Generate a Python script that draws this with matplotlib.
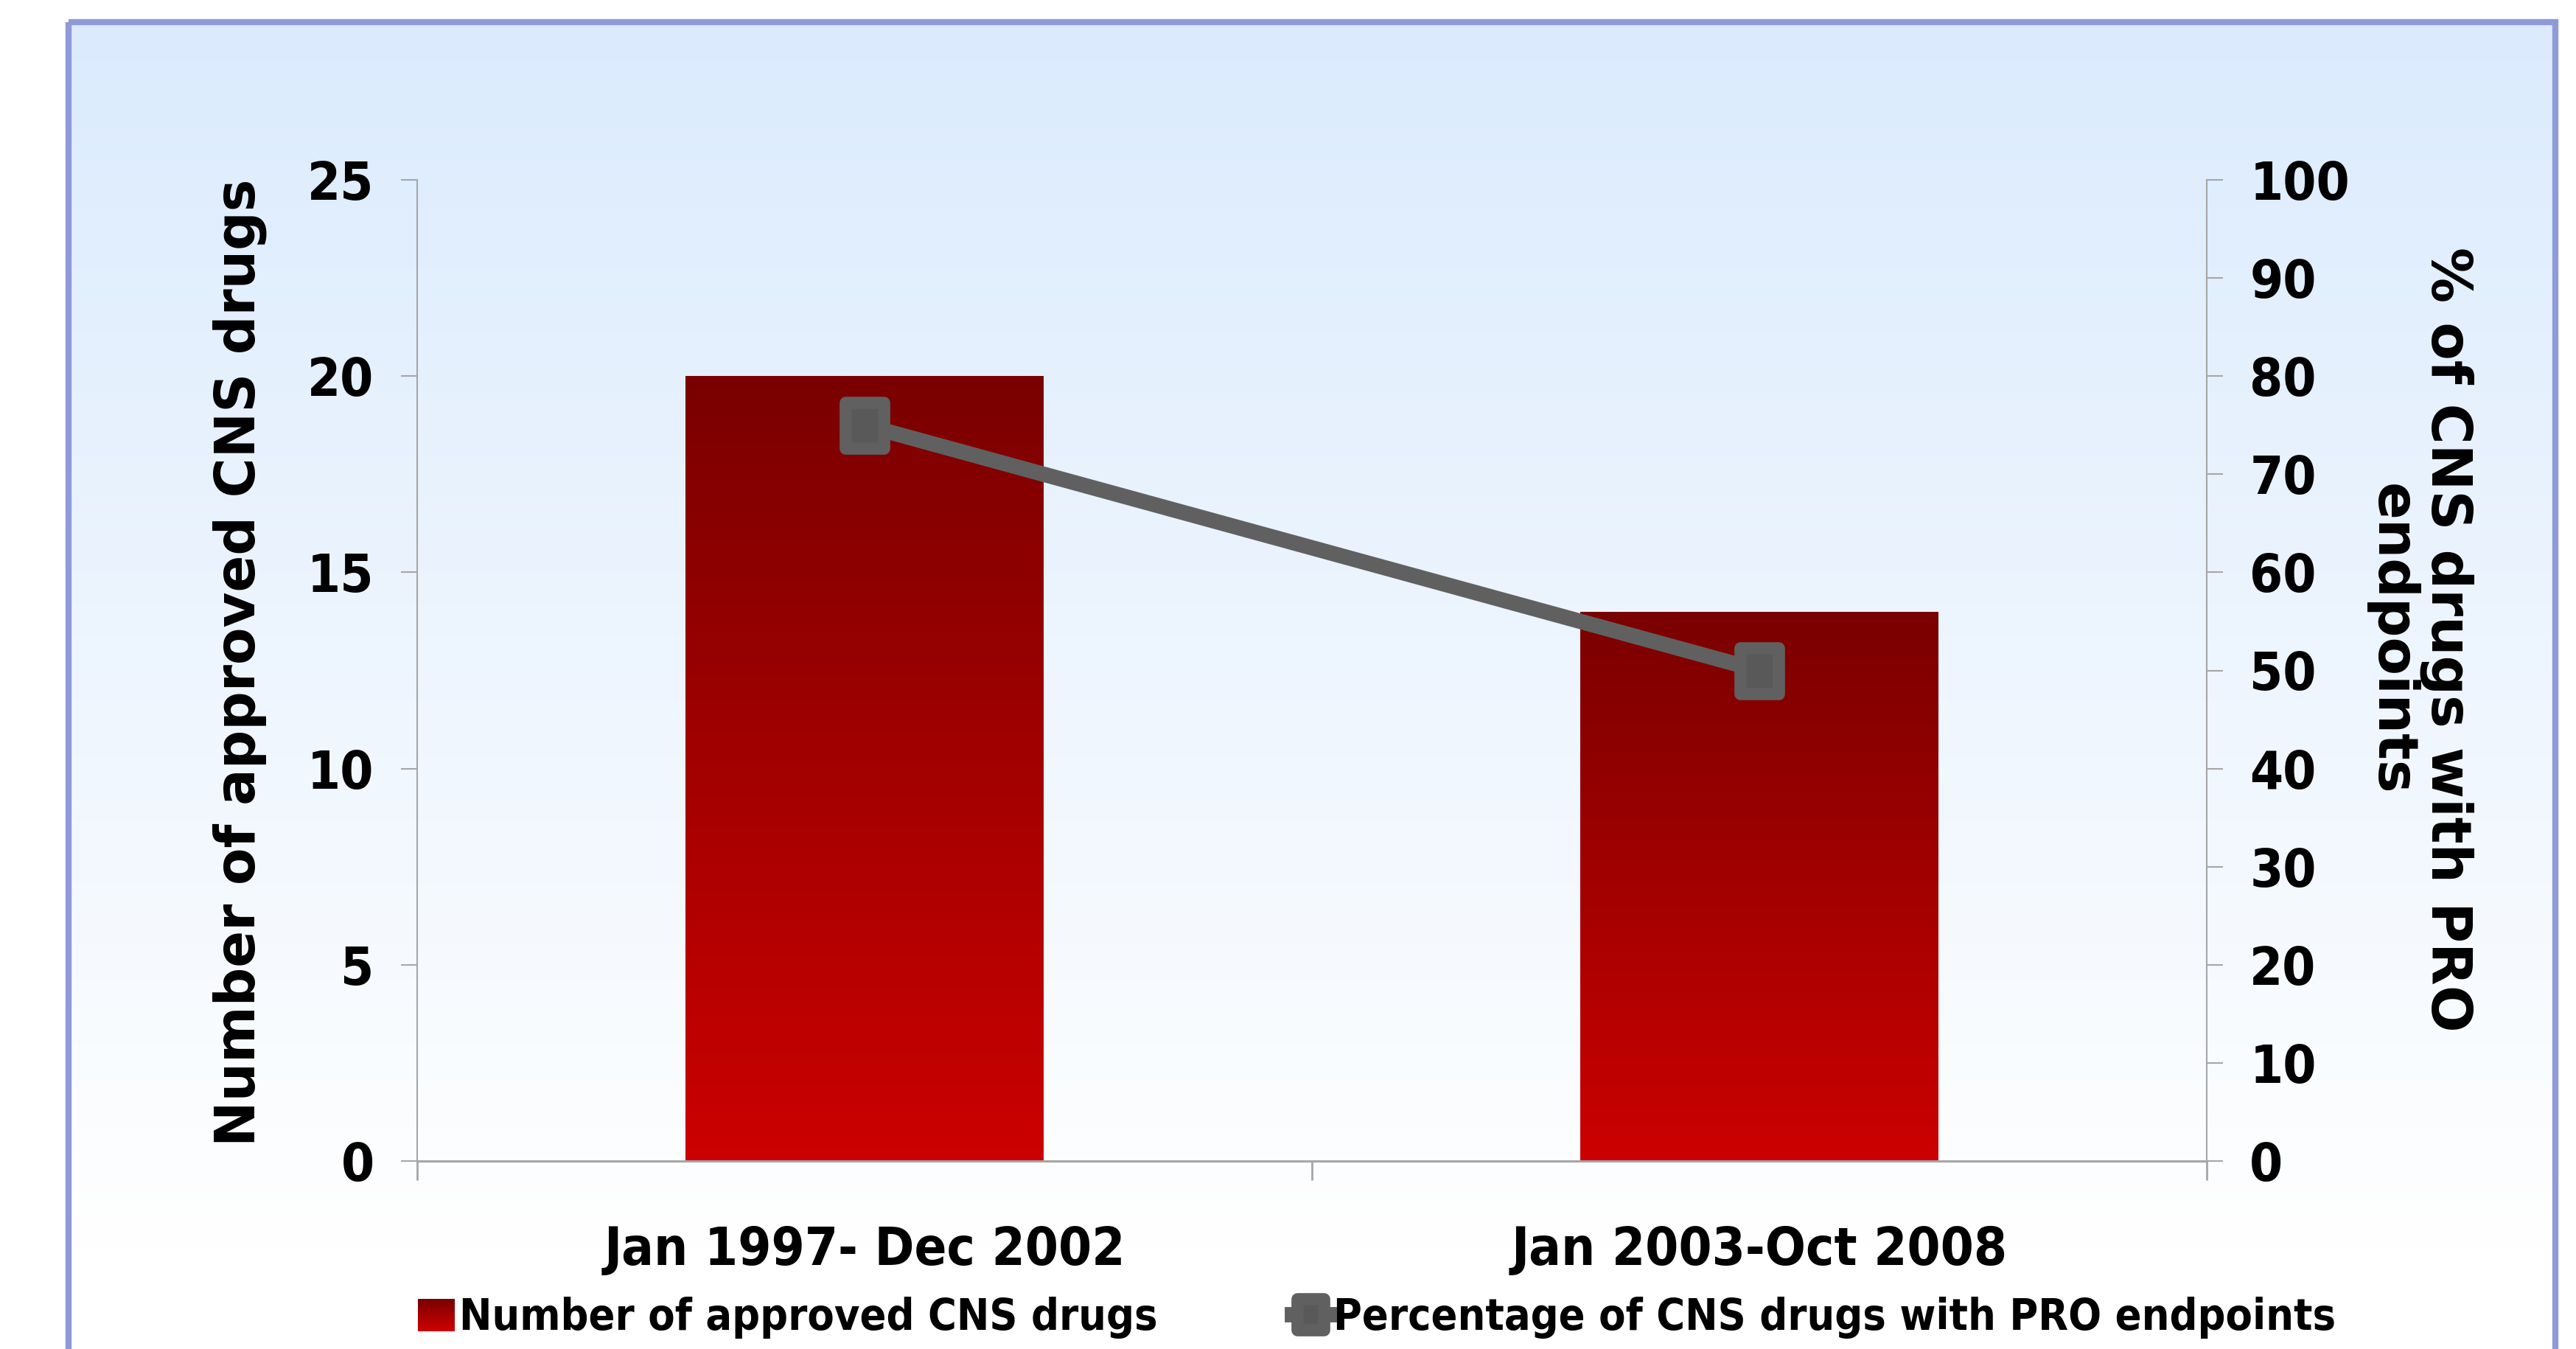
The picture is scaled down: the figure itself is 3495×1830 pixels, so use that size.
import numpy as np
import matplotlib.pyplot as plt
from matplotlib.patches import Rectangle
from matplotlib.markers import MarkerStyle
from matplotlib.path import Path
from matplotlib.colors import LinearSegmentedColormap
from matplotlib.legend_handler import HandlerBase

periods = ["Jan 1997- Dec 2002", "Jan 2003-Oct 2008"]
approved = [20, 14]
pro_pct = [75, 50]
left_ticks = [0, 5, 10, 15, 20, 25]
right_ticks = [0, 10, 20, 30, 40, 50, 60, 70, 80, 90, 100]
bar_label = "Number of approved CNS drugs"
line_label = "Percentage of CNS drugs with PRO endpoints"

plt.rcParams['font.family'] = ['DejaVu Sans']
plt.rcParams['font.weight'] = 'bold'

W, H = 3495, 1830
fig = plt.figure(figsize=(W / 100, H / 100), dpi=100)

bg_cmap = LinearSegmentedColormap.from_list("bg", ["#dbebfd", "#ffffff"])
bar_cmap = LinearSegmentedColormap.from_list("bar", ["#7a0000", "#cc0000"])

# page background with the blue frame
bg = fig.add_axes([0, 0, 1, 1], zorder=-10)
bg.axis("off")
bg.imshow(np.linspace(0, 1, 256).reshape(-1, 1), cmap=bg_cmap,
          extent=[93, 3467, 1700, 30], aspect="auto")
bg.add_patch(Rectangle((93, 1700), 3374, 200, color="white"))
bg.add_patch(Rectangle((93, 30), 3374, 1900, fill=False,
                       ec="#8f9ad9", lw=6))
bg.set_xlim(0, W)
bg.set_ylim(H, 0)

ax = fig.add_axes([566 / W, 1 - 1575 / H, (2994 - 566) / W, (1575 - 244) / H])
ax.patch.set_visible(False)

x = np.arange(len(periods))
bars = ax.bar(x, approved, width=0.4, color="none", zorder=2)
grad = np.linspace(0, 1, 256).reshape(-1, 1)
for b in bars:
    im = ax.imshow(grad, cmap=bar_cmap, aspect="auto", zorder=2,
                   extent=[b.get_x(), b.get_x() + b.get_width(), 0, b.get_height()])
    im.set_clip_path(b)
ax.set_xlim(-0.5, 1.5)
ax.set_ylim(0, 25)

ax2 = ax.twinx()
box = Path([(-0.43, -0.5), (0.43, -0.5), (0.43, 0.5), (-0.43, 0.5), (-0.43, -0.5)],
           [Path.MOVETO, Path.LINETO, Path.LINETO, Path.LINETO, Path.CLOSEPOLY])
mk = MarkerStyle(box, joinstyle="round")
line, = ax2.plot(x, pro_pct, color="#606060", lw=15, marker=mk, ms=44,
                 mfc="#595959", mec="#606060", mew=12, zorder=3)
ax2.set_ylim(0, 100)

spine_c = "#a6a6a6"
ax.spines["top"].set_visible(False)
ax2.spines["top"].set_visible(False)
ax.spines["right"].set_visible(False)
ax2.spines["left"].set_visible(False)
ax2.spines["bottom"].set_visible(False)
ax.spines["left"].set_color(spine_c)
ax.spines["left"].set_linewidth(1.5)
ax.spines["bottom"].set_color(spine_c)
ax.spines["bottom"].set_linewidth(2.2)
ax2.spines["right"].set_color(spine_c)
ax2.spines["right"].set_linewidth(1.5)

ax.set_yticks(left_ticks)
ax2.set_yticks(right_ticks)
ax.tick_params(axis="y", direction="out", length=16, width=1.5, color=spine_c,
               pad=26, labelsize=52)
ax2.tick_params(axis="y", direction="out", length=16, width=1.5, color=spine_c,
                pad=26, labelsize=52)
for lab in ax.get_yticklabels() + ax2.get_yticklabels():
    lab.set_fontweight("bold")
    lab.set_fontstretch("condensed")

ax.set_xticks([-0.5, 0.5, 1.5])
ax.set_xticklabels([])
ax.set_xticks(x, minor=True)
ax.set_xticklabels(periods, minor=True, fontsize=52, fontweight="bold",
                   fontstretch="condensed")
ax.tick_params(axis="x", which="major", direction="out", length=19, width=2,
               color=spine_c)
ax.tick_params(axis="x", which="minor", length=0, pad=63)

ax.set_ylabel(bar_label, fontsize=53, fontweight="bold", va="center", ha="center")
ax.yaxis.set_label_coords(-0.099, 0.508)
ax2.set_ylabel("% of CNS drugs with PRO\nendpoints", rotation=270, fontsize=54,
               fontweight="bold", va="center", ha="center", linespacing=1.05,
               multialignment="center")
ax2.yaxis.set_label_coords(1.1186, 0.532)


class GradientHandler(HandlerBase):
    def create_artists(self, legend, orig_handle, xdescent, ydescent,
                       width, height, fontsize, trans):
        n = 30
        parts = []
        for i in range(n):
            parts.append(Rectangle((-xdescent, -ydescent + height * (1 - (i + 1) / n)),
                                   width, height / n + 0.3,
                                   fc=bar_cmap(i / (n - 1)), ec="none",
                                   transform=trans))
        return parts


proxy = Rectangle((0, 0), 1, 1)
fig.legend([proxy, line], [bar_label, line_label], loc="center",
           bbox_to_anchor=(1868 / W, 1 - 1788 / H), ncol=2, frameon=False,
           prop={"size": 42.5, "weight": "bold", "stretch": "condensed"},
           handlelength=0.85, handleheight=0.75, handletextpad=0.1,
           columnspacing=3.1, markerscale=0.7,
           handler_map={proxy: GradientHandler()})

fig.savefig("out.png", dpi=100)
